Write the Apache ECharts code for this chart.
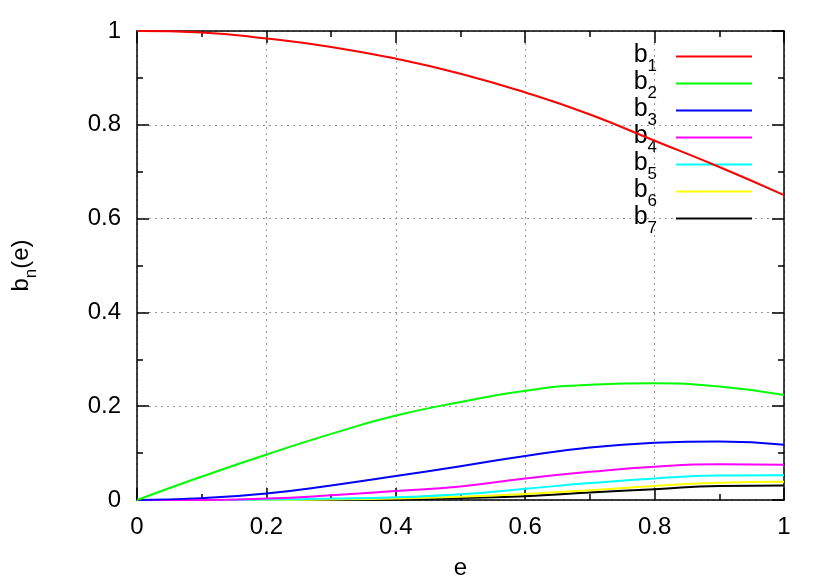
<!DOCTYPE html>
<html>
<head>
<meta charset="utf-8">
<script src="https://cdn.jsdelivr.net/npm/echarts@6/dist/echarts.min.js"></script>
<style>
  html, body { margin: 0; padding: 0; background: #fff; }
  #chart { width: 830px; height: 581px; }
</style>
</head>
<body>
<div id="chart"></div>
<script>
const eValues = [0, 0.1, 0.2, 0.3, 0.4, 0.5, 0.6, 0.7, 0.8, 0.9, 1.0]
const b1 = [1.0, 0.997, 0.984, 0.966, 0.941, 0.909, 0.869, 0.822, 0.766, 0.710, 0.650]
const b2 = [0, 0.050, 0.097, 0.141, 0.180, 0.209, 0.233, 0.246, 0.249, 0.242, 0.224]
const b3 = [0, 0.004, 0.014, 0.031, 0.051, 0.072, 0.094, 0.112, 0.122, 0.125, 0.118]
const b4 = [0, 0.000, 0.003, 0.010, 0.019, 0.029, 0.046, 0.060, 0.071, 0.076, 0.075]
const b5 = [0, 0, 0.001, 0.003, 0.006, 0.012, 0.024, 0.036, 0.046, 0.052, 0.053]
const b6 = [0, 0, 0, 0.001, 0.003, 0.007, 0.013, 0.021, 0.030, 0.037, 0.039]
const b7 = [0, 0, 0, 0, 0.001, 0.004, 0.008, 0.016, 0.023, 0.030, 0.031]

const seriesNames = ['b1', 'b2', 'b3', 'b4', 'b5', 'b6', 'b7']
const seriesValues = [b1, b2, b3, b4, b5, b6, b7]
const seriesColors = ['#ff0000', '#00ff00', '#0000ff', '#ff00ff', '#00ffff', '#ffff00', '#000000']

const font = 'Liberation Sans'

const chart = echarts.init(document.getElementById('chart'), null, { renderer: 'canvas' })

const frameAxis = (extra) => ({
  type: 'value',
  min: 0,
  max: 1,
  interval: 0.2,
  axisLine: { show: true, onZero: false, lineStyle: { color: '#000', width: 1.5 } },
  axisTick: { show: true, inside: true, length: 12, lineStyle: { color: '#000', width: 1.5 } },
  minorTick: { show: true, splitNumber: 2, length: 6, lineStyle: { color: '#000', width: 1.5 } },
  ...extra
})

const tickLabel = (v) => String(Math.round(v * 10) / 10)

chart.setOption({
  animation: false,
  backgroundColor: '#fff',
  grid: { left: 137, right: 46, top: 31, bottom: 81, containLabel: false, outerBoundsMode: 'none' },
  legend: {
    orient: 'vertical',
    right: 78,
    top: 43,
    padding: 0,
    itemGap: -5,
    align: 'right',
    icon: 'rect',
    itemWidth: 76,
    itemHeight: 2,
    data: seriesNames,
    formatter: (name) => `{b|b}{s|${name.slice(1)}}`,
    textStyle: {
      fontFamily: font,
      color: '#000',
      rich: {
        b: { fontFamily: font, fontSize: 25, lineHeight: 27, verticalAlign: 'top', color: '#000' },
        s: { fontFamily: font, fontSize: 17, lineHeight: 17, padding: [15, 14, 0, 0], verticalAlign: 'top', color: '#000' }
      }
    }
  },
  xAxis: [
    frameAxis({
      position: 'bottom',
      name: 'e',
      nameLocation: 'middle',
      nameGap: 56,
      nameTextStyle: { fontFamily: font, fontSize: 24, color: '#000' },
      axisLabel: { show: true, margin: 15, fontFamily: font, fontSize: 24, color: '#000', formatter: tickLabel },
      splitLine: { show: true, lineStyle: { color: '#999', type: [2, 4], width: 1 } }
    }),
    frameAxis({
      position: 'top',
      axisLabel: { show: false },
      splitLine: { show: false }
    })
  ],
  yAxis: [
    frameAxis({
      position: 'left',
      name: '{a|b}{s|n}{a|(e)}',
      nameLocation: 'middle',
      nameGap: 102,
      nameRotate: 90,
      nameTextStyle: {
        fontFamily: font,
        fontSize: 24,
        color: '#000',
        rich: {
          a: { fontFamily: font, fontSize: 24, lineHeight: 26, verticalAlign: 'top', color: '#000' },
          s: { fontFamily: font, fontSize: 17, lineHeight: 17, padding: [14, 0, 0, 0], verticalAlign: 'top', color: '#000' }
        }
      },
      axisLabel: { show: true, margin: 16, fontFamily: font, fontSize: 24, color: '#000', formatter: tickLabel },
      splitLine: { show: true, lineStyle: { color: '#999', type: [2, 4], width: 1 } }
    }),
    frameAxis({
      position: 'right',
      axisLabel: { show: false },
      splitLine: { show: false }
    })
  ],
  series: seriesNames.map((name, i) => ({
    name,
    type: 'line',
    xAxisIndex: 0,
    yAxisIndex: 0,
    data: eValues.map((e, j) => [e, seriesValues[i][j]]),
    smooth: 0.5,
    symbol: 'none',
    clip: true,
    color: seriesColors[i],
    lineStyle: { color: seriesColors[i], width: 2 },
    z: 10 - i
  }))
})
</script>
</body>
</html>
